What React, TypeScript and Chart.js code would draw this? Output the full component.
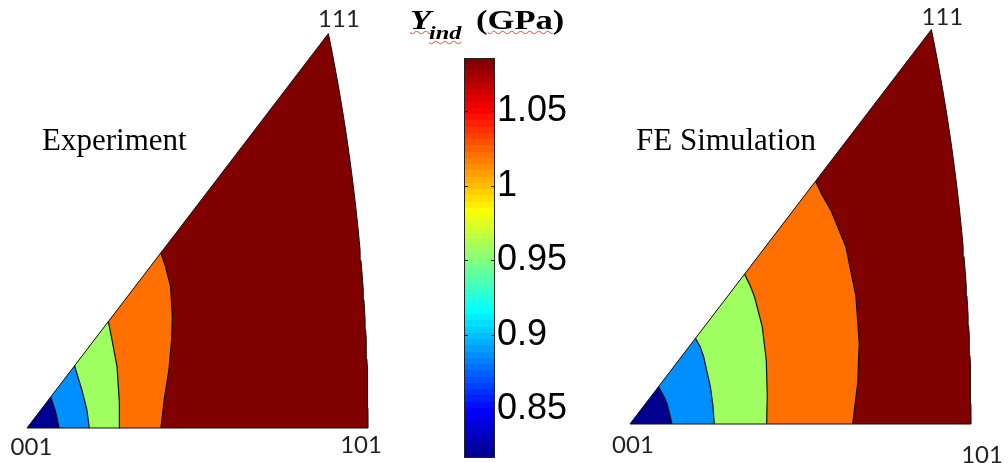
import React, { useEffect, useRef } from "react";
import { Chart, registerables } from "chart.js";

Chart.register(...registerables);

// Colour scale of the indentation yield strength (GPa)
const CBAR_MIN = 0.8173;
const CBAR_MAX = 1.0859;
const CBAR_TICKS = [0.85, 0.9, 0.95, 1, 1.05];

// Corners of the standard triangle, stereographic coordinates
const POLE_NAMES = ["001", "101", "111"];
const POLES = [
  { x: 0, y: 0 },
  { x: Math.SQRT2 - 1, y: 0 },
  { x: (Math.sqrt(3) - 1) / 2, y: (Math.sqrt(3) - 1) / 2 },
];

// Yield strength of each band, from the [001] corner outwards (GPa)
const EXP_BAND_VALUES = [0.82, 0.887, 0.956, 1.019, 1.084];
const SIM_BAND_VALUES = [0.82, 0.887, 0.956, 1.019, 1.084];

// Band boundaries, traced from the [001]-[101] edge up to the [001]-[111] edge
const EXP_CONTOUR_1 = [[0.039, 0], [0.037, 0.0074], [0.0341, 0.0167], [0.0288, 0.0288]];
const EXP_CONTOUR_2 = [[0.0756, 0], [0.0728, 0.0167], [0.0667, 0.0353], [0.0622, 0.0464], [0.0578, 0.0578]];
const EXP_CONTOUR_3 = [[0.1126, 0], [0.1122, 0.0232], [0.1094, 0.0566], [0.1033, 0.0816], [0.0988, 0.0988]];
const EXP_CONTOUR_4 = [
  [0.1626, 0], [0.1671, 0.029], [0.1723, 0.0538], [0.1756, 0.0816],
  [0.1765, 0.1032], [0.1744, 0.1311], [0.1683, 0.1496], [0.1626, 0.1626],
];

const SIM_CONTOUR_1 = [[0.0509, 0], [0.0482, 0.0093], [0.0448, 0.0192], [0.0409, 0.026], [0.0346, 0.0346]];
const SIM_CONTOUR_2 = [[0.1024, 0], [0.1006, 0.0176], [0.0976, 0.0346], [0.0894, 0.0624], [0.0854, 0.0714], [0.0795, 0.0795]];
const SIM_CONTOUR_3 = [
  [0.1659, 0], [0.1667, 0.0253], [0.1655, 0.0594], [0.1606, 0.0903],
  [0.1512, 0.1181], [0.1457, 0.1289], [0.1391, 0.1391],
];
const SIM_CONTOUR_4 = [
  [0.2704, 0], [0.2765, 0.0378], [0.2784, 0.0749], [0.2744, 0.1181],
  [0.2622, 0.1645], [0.2439, 0.1985], [0.2335, 0.2124], [0.2254, 0.2254],
];

// Layout: pixels per stereographic unit and panel placement
const KX = 823.4;
const KY = 1077.5;
const PAGE_H = 463;

const PANELS = [
  {
    title: "Experiment",
    values: EXP_BAND_VALUES,
    contours: [EXP_CONTOUR_1, EXP_CONTOUR_2, EXP_CONTOUR_3, EXP_CONTOUR_4],
    left: 0,
    width: 420,
    ox: 27,
    oy: 428,
    titleAt: [15, -278],
    labelAt: [[4.5, 27], [-7, 25], [10.6, -6.3]],
  },
  {
    title: "FE Simulation",
    values: SIM_BAND_VALUES,
    contours: [SIM_CONTOUR_1, SIM_CONTOUR_2, SIM_CONTOUR_3, SIM_CONTOUR_4],
    left: 588,
    width: 420,
    ox: 42,
    oy: 424,
    titleAt: [6, -274],
    labelAt: [[3, 29.3], [11, 38.5], [11, -4.6]],
  },
];

// MATLAB-style 64-step jet colormap
function jet64(): number[][] {
  const m = 64;
  const n = 16;
  const u: number[] = [];
  for (let i = 1; i <= n; i++) u.push(i / n);
  for (let i = 1; i <= n - 1; i++) u.push(1);
  for (let i = n; i >= 1; i--) u.push(i / n);
  const off = Math.ceil(n / 2) - (m % 4 === 1 ? 1 : 0);
  const J = Array.from({ length: m }, () => [0, 0, 0]);
  u.forEach((val, k) => {
    const g = off + k + 1;
    const r = g + n;
    const b = g - n;
    if (r >= 1 && r <= m) J[r - 1][0] = val;
    if (g >= 1 && g <= m) J[g - 1][1] = val;
    if (b >= 1 && b <= m) J[b - 1][2] = val;
  });
  return J;
}
const JET = jet64();
const rgb = (c: number[]) =>
  `rgb(${Math.round(c[0] * 255)},${Math.round(c[1] * 255)},${Math.round(c[2] * 255)})`;
function jetColor(v: number) {
  const idx = Math.min(63, Math.max(0, Math.floor(((v - CBAR_MIN) / (CBAR_MAX - CBAR_MIN)) * 64)));
  return rgb(JET[idx]);
}

const pts = (a: number[][]) => a.map(([x, y]) => ({ x, y }));

// [101]-[111] edge: a great circle, i.e. a circle of radius sqrt(2) about (-1, 0)
function zoneEdge(steps = 40) {
  const top = POLES[2].y;
  const out: { x: number; y: number }[] = [];
  for (let i = 0; i <= steps; i++) {
    const y = (top * i) / steps;
    out.push({ x: Math.sqrt(2 - y * y) - 1, y });
  }
  return out;
}

function panelConfig(p: (typeof PANELS)[number]): any {
  const triangle = [POLES[0], ...zoneEdge()];
  const base = { showLine: true, pointRadius: 0, pointHoverRadius: 0, tension: 0 };
  const datasets: any[] = [];
  datasets.push({
    ...base,
    data: triangle,
    fill: "shape",
    backgroundColor: jetColor(p.values[4]),
    borderWidth: 0,
    order: 9,
  });
  p.contours.forEach((c, i) => {
    datasets.push({
      ...base,
      data: [POLES[0], ...pts(c)],
      fill: "shape",
      backgroundColor: jetColor(p.values[i]),
      borderWidth: 0,
      order: 5 + i,
    });
    datasets.push({
      ...base,
      data: pts(c),
      fill: false,
      borderColor: "#111",
      borderWidth: 1.2,
      order: 2,
    });
  });
  datasets.push({
    ...base,
    data: [...triangle, POLES[0]],
    fill: false,
    borderColor: "#111",
    borderWidth: 1,
    borderJoinStyle: "miter",
    order: 1,
  });

  const labels = {
    id: "poleLabels",
    afterDraw(chart: any) {
      const { ctx } = chart;
      const xs = chart.scales.x;
      const ys = chart.scales.y;
      ctx.save();
      ctx.fillStyle = "#222";
      ctx.font = "24px Lato";
      ctx.textAlign = "center";
      ctx.textBaseline = "alphabetic";
      POLE_NAMES.forEach((name, i) => {
        const q = POLES[i];
        const [dx, dy] = p.labelAt[i];
        ctx.fillText(name, xs.getPixelForValue(q.x) + dx, ys.getPixelForValue(q.y) + dy);
      });
      ctx.fillStyle = "#000";
      ctx.font = '31px "Liberation Serif"';
      ctx.textAlign = "left";
      ctx.fillText(p.title, xs.getPixelForValue(0) + p.titleAt[0], ys.getPixelForValue(0) + p.titleAt[1]);
      ctx.restore();
    },
  };

  return {
    type: "scatter",
    data: { datasets },
    options: {
      animation: false,
      responsive: false,
      events: [],
      layout: { padding: 0 },
      plugins: { legend: { display: false }, tooltip: { enabled: false } },
      scales: {
        x: { type: "linear", display: false, min: -p.ox / KX, max: (p.width - p.ox) / KX },
        y: { type: "linear", display: false, min: -(PAGE_H - p.oy) / KY, max: p.oy / KY },
      },
    },
    plugins: [labels],
  };
}

function colorbarConfig(): any {
  const frame = {
    id: "cbarFrame",
    afterDatasetsDraw(chart: any) {
      const { ctx, chartArea: a } = chart;
      const ys = chart.scales.y;
      ctx.save();
      ctx.strokeStyle = "#222";
      ctx.lineWidth = 1;
      ctx.strokeRect(a.left + 0.5, a.top + 0.5, a.right - a.left - 1, a.bottom - a.top - 1);
      ctx.beginPath();
      CBAR_TICKS.forEach((v) => {
        const yp = Math.round(ys.getPixelForValue(v)) + 0.5;
        ctx.moveTo(a.left, yp);
        ctx.lineTo(a.left + 4, yp);
        ctx.moveTo(a.right - 4, yp);
        ctx.lineTo(a.right, yp);
      });
      ctx.stroke();
      ctx.restore();
    },
  };

  return {
    type: "bar",
    data: {
      labels: [""],
      datasets: [
        {
          data: [[CBAR_MIN, CBAR_MAX]],
          borderWidth: 0,
          barPercentage: 1,
          categoryPercentage: 1,
          backgroundColor: (c: any) => {
            const chart = c.chart;
            if (!chart.chartArea) return "transparent";
            const ys = chart.scales.y;
            const y0 = ys.getPixelForValue(CBAR_MIN);
            const y1 = ys.getPixelForValue(CBAR_MAX);
            const g = chart.ctx.createLinearGradient(0, y0, 0, y1);
            JET.forEach((col, i) => {
              g.addColorStop(i / 64, rgb(col));
              g.addColorStop((i + 1) / 64, rgb(col));
            });
            return g;
          },
        },
      ],
    },
    options: {
      animation: false,
      responsive: false,
      events: [],
      layout: { padding: { left: 1, top: 1, bottom: 1, right: 0 } },
      plugins: { legend: { display: false }, tooltip: { enabled: false } },
      scales: {
        x: { display: false },
        y: {
          position: "right",
          min: CBAR_MIN,
          max: CBAR_MAX,
          grid: { display: false, drawTicks: false },
          border: { display: false },
          ticks: {
            padding: 2,
            color: "#000",
            font: { family: '"Liberation Sans", Arial, sans-serif', size: 36 },
            callback: (v: number) => String(v),
          },
          afterBuildTicks: (s: any) => {
            s.ticks = CBAR_TICKS.map((v) => ({ value: v }));
          },
          afterFit: (s: any) => {
            s.width = 90;
            s.paddingTop = 0;
            s.paddingBottom = 0;
          },
        },
      },
    },
    plugins: [frame],
  };
}

function ChartCanvas({ make, left, top, width, height }: any) {
  const ref = useRef<HTMLCanvasElement>(null);
  useEffect(() => {
    const chart = new Chart(ref.current as HTMLCanvasElement, make());
    return () => chart.destroy();
  }, []);
  return (
    <canvas
      ref={ref}
      width={width}
      height={height}
      style={{ position: "absolute", left, top, width, height }}
    />
  );
}

const wavy: React.CSSProperties = {
  textDecorationLine: "underline",
  textDecorationStyle: "wavy",
  textDecorationColor: "#e07070",
  textDecorationThickness: "1px",
};

const titlePart = (left: number, top: number, size: number): React.CSSProperties => ({
  position: "absolute",
  left,
  top,
  fontFamily: '"Liberation Serif", "Times New Roman", serif',
  fontWeight: "bold",
  fontSize: size,
  lineHeight: 1,
  whiteSpace: "nowrap",
  transform: "scaleX(1.28)",
  transformOrigin: "left top",
  color: "#000",
});

export default function App() {
  return (
    <div
      style={{
        position: "fixed",
        left: 0,
        top: 0,
        width: 1008,
        height: PAGE_H,
        overflow: "hidden",
        background: "#fff",
      }}
    >
      {PANELS.map((p) => (
        <ChartCanvas
          key={p.title}
          make={() => panelConfig(p)}
          left={p.left}
          top={0}
          width={p.width}
          height={PAGE_H}
        />
      ))}
      <ChartCanvas make={colorbarConfig} left={463} top={57} width={122} height={402} />
      <span style={{ ...titlePart(410, 7, 27), fontStyle: "italic", ...wavy }}>Y</span>
      <span style={{ ...titlePart(429, 23, 19), fontStyle: "italic", ...wavy }}>ind</span>
      <span style={titlePart(476, 7, 27)}>
        (<span style={wavy}>GPa</span>)
      </span>
    </div>
  );
}
